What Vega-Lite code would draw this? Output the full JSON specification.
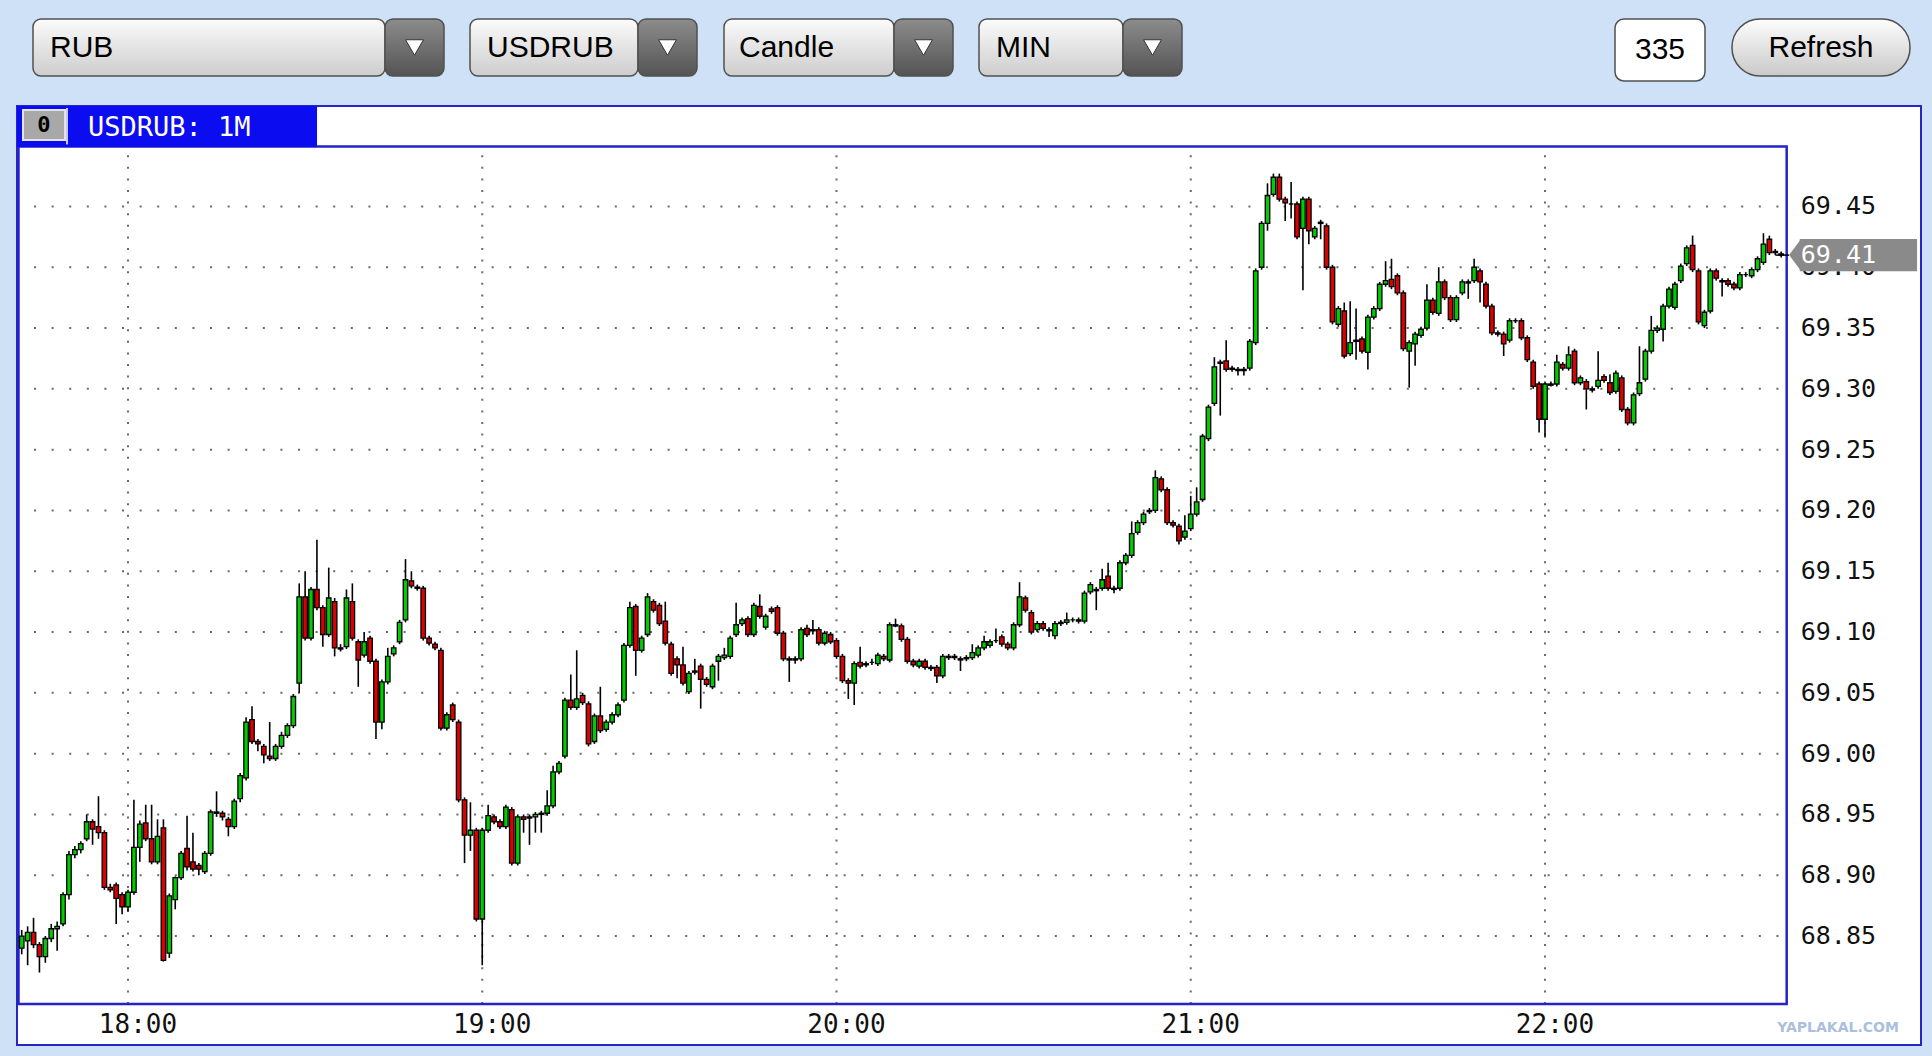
{
"$schema":"https://vega.github.io/schema/vega-lite/v6.json",
"background":"#cfe1f7",
"padding":{"left":16,"top":18,"right":10,"bottom":11},
"spacing":23,
"bounds":"full",
"config":{"view":{"stroke":null},"scale":{"continuousPadding":0}},
"vconcat":[
{"hconcat":[
{"width":16,"height":57,"data":{"values":[{}]},"mark":{"type":"text"},"encoding":{"text":{"value":""}}},
{"width":352,"height":57,"data":{"values":[{}]},"view":{"fill":{"gradient":"linear","x1":0,"y1":0,"x2":0,"y2":1,"stops":[{"offset":0,"color":"#fbfbfb"},{"offset":1,"color":"#cdcdcd"}]},"stroke":"#505050","strokeWidth":1.5,"cornerRadius":8},"mark":{"type":"text","align":"left","dx":-159,"font":"Liberation Sans","fontSize":30,"color":"#000000"},"encoding":{"text":{"value":"RUB"}}},
{"width":59,"height":57,"data":{"values":[{}]},"view":{"fill":{"gradient":"linear","x1":0,"y1":0,"x2":0,"y2":1,"stops":[{"offset":0,"color":"#8c8c8c"},{"offset":1,"color":"#545454"}]},"stroke":"#505050","strokeWidth":1.5,"cornerRadius":8},"mark":{"type":"point","shape":"triangle-down","filled":true,"size":320,"color":"#ffffff","stroke":"#333333","strokeWidth":1,"opacity":1}},
{"width":26,"height":57,"data":{"values":[{}]},"mark":{"type":"text"},"encoding":{"text":{"value":""}}},
{"width":168,"height":57,"data":{"values":[{}]},"view":{"fill":{"gradient":"linear","x1":0,"y1":0,"x2":0,"y2":1,"stops":[{"offset":0,"color":"#fbfbfb"},{"offset":1,"color":"#cdcdcd"}]},"stroke":"#505050","strokeWidth":1.5,"cornerRadius":8},"mark":{"type":"text","align":"left","dx":-67,"font":"Liberation Sans","fontSize":30,"color":"#000000"},"encoding":{"text":{"value":"USDRUB"}}},
{"width":59,"height":57,"data":{"values":[{}]},"view":{"fill":{"gradient":"linear","x1":0,"y1":0,"x2":0,"y2":1,"stops":[{"offset":0,"color":"#8c8c8c"},{"offset":1,"color":"#545454"}]},"stroke":"#505050","strokeWidth":1.5,"cornerRadius":8},"mark":{"type":"point","shape":"triangle-down","filled":true,"size":320,"color":"#ffffff","stroke":"#333333","strokeWidth":1,"opacity":1}},
{"width":27,"height":57,"data":{"values":[{}]},"mark":{"type":"text"},"encoding":{"text":{"value":""}}},
{"width":170,"height":57,"data":{"values":[{}]},"view":{"fill":{"gradient":"linear","x1":0,"y1":0,"x2":0,"y2":1,"stops":[{"offset":0,"color":"#fbfbfb"},{"offset":1,"color":"#cdcdcd"}]},"stroke":"#505050","strokeWidth":1.5,"cornerRadius":8},"mark":{"type":"text","align":"left","dx":-70,"font":"Liberation Sans","fontSize":30,"color":"#000000"},"encoding":{"text":{"value":"Candle"}}},
{"width":59,"height":57,"data":{"values":[{}]},"view":{"fill":{"gradient":"linear","x1":0,"y1":0,"x2":0,"y2":1,"stops":[{"offset":0,"color":"#8c8c8c"},{"offset":1,"color":"#545454"}]},"stroke":"#505050","strokeWidth":1.5,"cornerRadius":8},"mark":{"type":"point","shape":"triangle-down","filled":true,"size":320,"color":"#ffffff","stroke":"#333333","strokeWidth":1,"opacity":1}},
{"width":26,"height":57,"data":{"values":[{}]},"mark":{"type":"text"},"encoding":{"text":{"value":""}}},
{"width":144,"height":57,"data":{"values":[{}]},"view":{"fill":{"gradient":"linear","x1":0,"y1":0,"x2":0,"y2":1,"stops":[{"offset":0,"color":"#fbfbfb"},{"offset":1,"color":"#cdcdcd"}]},"stroke":"#505050","strokeWidth":1.5,"cornerRadius":8},"mark":{"type":"text","align":"left","dx":-55,"font":"Liberation Sans","fontSize":30,"color":"#000000"},"encoding":{"text":{"value":"MIN"}}},
{"width":59,"height":57,"data":{"values":[{}]},"view":{"fill":{"gradient":"linear","x1":0,"y1":0,"x2":0,"y2":1,"stops":[{"offset":0,"color":"#8c8c8c"},{"offset":1,"color":"#545454"}]},"stroke":"#505050","strokeWidth":1.5,"cornerRadius":8},"mark":{"type":"point","shape":"triangle-down","filled":true,"size":320,"color":"#ffffff","stroke":"#333333","strokeWidth":1,"opacity":1}},
{"width":433,"height":57,"data":{"values":[{}]},"mark":{"type":"text"},"encoding":{"text":{"value":""}}},
{"width":90,"height":62,"data":{"values":[{}]},"view":{"fill":"#ffffff","stroke":"#505050","strokeWidth":1.5,"cornerRadius":9},"mark":{"type":"text","font":"Liberation Sans","fontSize":30,"color":"#000000"},"encoding":{"text":{"value":"335"}}},
{"width":27,"height":57,"data":{"values":[{}]},"mark":{"type":"text"},"encoding":{"text":{"value":""}}},
{"width":178,"height":57,"data":{"values":[{}]},"view":{"fill":{"gradient":"linear","x1":0,"y1":0,"x2":0,"y2":1,"stops":[{"offset":0,"color":"#fdfdfd"},{"offset":1,"color":"#c9c9c9"}]},"stroke":"#505050","strokeWidth":1.5,"cornerRadius":28},"mark":{"type":"text","font":"Liberation Sans","fontSize":30,"color":"#000000"},"encoding":{"text":{"value":"Refresh"}}}
],"spacing":0,"bounds":"flush"},
{"width":1904,"height":939,
"view":{"fill":"#ffffff","stroke":"#2626c4","strokeWidth":2},
"layer":[
{"data":{"values":[{"p":68.85},{"p":68.9},{"p":68.95},{"p":69.0},{"p":69.05},{"p":69.1},{"p":69.15},{"p":69.2},{"p":69.25},{"p":69.3},{"p":69.35},{"p":69.4},{"p":69.45}]},
"layer":[
{"mark":{"type":"rule","color":"#6a6a6a","strokeWidth":2,"strokeDash":[2,15.6]},
"encoding":{
"y":{"field":"p","type":"quantitative","scale":{"domain":[68.7604,69.5326],"zero":false,"nice":false,"padding":0},"axis":null},
"x":{"datum":{"year":1900,"month":1,"date":1,"hours":17,"minutes":44,"seconds":5},"type":"temporal",
"scale":{"domain":[{"year":1900,"month":1,"date":1,"hours":17,"minutes":41,"seconds":12},{"year":1900,"month":1,"date":1,"hours":23,"minutes":3,"seconds":41}],"nice":false,"padding":0},"axis":null},
"x2":{"datum":{"year":1900,"month":1,"date":1,"hours":22,"minutes":40,"seconds":9}}}},
{"mark":{"type":"text","align":"left","baseline":"middle","font":"DejaVu Sans Mono","fontSize":25,"color":"#111111"},
"encoding":{"x":{"datum":{"year":1900,"month":1,"date":1,"hours":22,"minutes":43,"seconds":19},"type":"temporal","axis":null},"y":{"field":"p","type":"quantitative","axis":null},"text":{"field":"p","type":"quantitative","format":".2f"}}}
]},
{"data":{"values":[{"t":"18:00"},{"t":"19:00"},{"t":"20:00"},{"t":"21:00"},{"t":"22:00"}],"format":{"parse":{"t":"date:'%H:%M'"}}},
"layer":[
{"mark":{"type":"rule","color":"#6a6a6a","strokeWidth":2,"strokeDash":[2,9.6]},
"encoding":{"x":{"field":"t","type":"temporal","axis":null},"y":{"datum":68.7941,"type":"quantitative","axis":null},"y2":{"datum":69.4993}}},
{"mark":{"type":"text","align":"center","baseline":"middle","dx":10,"font":"DejaVu Sans Mono","fontSize":26,"color":"#111111"},
"encoding":{"x":{"field":"t","type":"temporal","axis":null},"y":{"datum":68.7772,"type":"quantitative","axis":null},"text":{"field":"t","type":"temporal","format":"%H:%M"}}}
]},
{"data":{"values":[{}]},
"mark":{"type":"rect","fillOpacity":0,"stroke":"#2323c8","strokeWidth":2.5},
"encoding":{"x":{"datum":{"year":1900,"month":1,"date":1,"hours":17,"minutes":41,"seconds":27},"type":"temporal","axis":null},"x2":{"datum":{"year":1900,"month":1,"date":1,"hours":22,"minutes":40,"seconds":56}},"y":{"datum":68.7941,"type":"quantitative","axis":null},"y2":{"datum":69.4993}}},
{"data":{"values":[
{"t":"17:42","o":68.840,"h":68.855,"l":68.835,"c":68.850},
{"t":"17:43","o":68.846,"h":68.858,"l":68.826,"c":68.853},
{"t":"17:44","o":68.853,"h":68.865,"l":68.840,"c":68.843},
{"t":"17:45","o":68.843,"h":68.845,"l":68.820,"c":68.833},
{"t":"17:46","o":68.833,"h":68.850,"l":68.828,"c":68.848},
{"t":"17:47","o":68.848,"h":68.860,"l":68.845,"c":68.856},
{"t":"17:48","o":68.856,"h":68.862,"l":68.838,"c":68.858},
{"t":"17:49","o":68.860,"h":68.886,"l":68.858,"c":68.884},
{"t":"17:50","o":68.884,"h":68.920,"l":68.880,"c":68.917},
{"t":"17:51","o":68.917,"h":68.924,"l":68.914,"c":68.921},
{"t":"17:52","o":68.921,"h":68.928,"l":68.918,"c":68.926},
{"t":"17:53","o":68.930,"h":68.950,"l":68.928,"c":68.944},
{"t":"17:54","o":68.944,"h":68.946,"l":68.925,"c":68.938},
{"t":"17:55","o":68.940,"h":68.965,"l":68.930,"c":68.935},
{"t":"17:56","o":68.935,"h":68.937,"l":68.888,"c":68.890},
{"t":"17:57","o":68.890,"h":68.893,"l":68.886,"c":68.888},
{"t":"17:58","o":68.892,"h":68.894,"l":68.860,"c":68.881},
{"t":"17:59","o":68.884,"h":68.886,"l":68.868,"c":68.874},
{"t":"18:00","o":68.874,"h":68.888,"l":68.870,"c":68.886},
{"t":"18:01","o":68.886,"h":68.962,"l":68.884,"c":68.923},
{"t":"18:02","o":68.923,"h":68.945,"l":68.911,"c":68.942},
{"t":"18:03","o":68.943,"h":68.958,"l":68.928,"c":68.930},
{"t":"18:04","o":68.930,"h":68.958,"l":68.909,"c":68.911},
{"t":"18:05","o":68.911,"h":68.946,"l":68.909,"c":68.932},
{"t":"18:06","o":68.939,"h":68.946,"l":68.829,"c":68.830},
{"t":"18:07","o":68.836,"h":68.885,"l":68.832,"c":68.883},
{"t":"18:08","o":68.880,"h":68.899,"l":68.872,"c":68.898},
{"t":"18:09","o":68.898,"h":68.920,"l":68.896,"c":68.918},
{"t":"18:10","o":68.922,"h":68.949,"l":68.904,"c":68.907},
{"t":"18:11","o":68.911,"h":68.935,"l":68.903,"c":68.905},
{"t":"18:12","o":68.908,"h":68.910,"l":68.900,"c":68.905},
{"t":"18:13","o":68.903,"h":68.920,"l":68.901,"c":68.918},
{"t":"18:14","o":68.918,"h":68.954,"l":68.916,"c":68.952},
{"t":"18:15","o":68.951,"h":68.969,"l":68.948,"c":68.952},
{"t":"18:16","o":68.951,"h":68.953,"l":68.945,"c":68.948},
{"t":"18:17","o":68.946,"h":68.948,"l":68.932,"c":68.940},
{"t":"18:18","o":68.940,"h":68.963,"l":68.938,"c":68.961},
{"t":"18:19","o":68.963,"h":68.984,"l":68.960,"c":68.982},
{"t":"18:20","o":68.980,"h":69.030,"l":68.978,"c":69.026},
{"t":"18:21","o":69.028,"h":69.039,"l":69.008,"c":69.010},
{"t":"18:22","o":69.010,"h":69.012,"l":69.002,"c":69.008},
{"t":"18:23","o":69.006,"h":69.008,"l":68.992,"c":68.999},
{"t":"18:24","o":68.998,"h":69.026,"l":68.994,"c":68.996},
{"t":"18:25","o":68.996,"h":69.008,"l":68.994,"c":69.006},
{"t":"18:26","o":69.006,"h":69.018,"l":69.004,"c":69.015},
{"t":"18:27","o":69.015,"h":69.025,"l":69.013,"c":69.023},
{"t":"18:28","o":69.023,"h":69.049,"l":69.021,"c":69.047},
{"t":"18:29","o":69.058,"h":69.140,"l":69.050,"c":69.129},
{"t":"18:30","o":69.129,"h":69.150,"l":69.093,"c":69.095},
{"t":"18:31","o":69.095,"h":69.137,"l":69.093,"c":69.135},
{"t":"18:32","o":69.135,"h":69.176,"l":69.118,"c":69.120},
{"t":"18:33","o":69.120,"h":69.122,"l":69.088,"c":69.098},
{"t":"18:34","o":69.098,"h":69.153,"l":69.096,"c":69.128},
{"t":"18:35","o":69.125,"h":69.128,"l":69.080,"c":69.087},
{"t":"18:36","o":69.087,"h":69.090,"l":69.084,"c":69.086},
{"t":"18:37","o":69.088,"h":69.135,"l":69.086,"c":69.128},
{"t":"18:38","o":69.125,"h":69.140,"l":69.093,"c":69.095},
{"t":"18:39","o":69.092,"h":69.094,"l":69.055,"c":69.077},
{"t":"18:40","o":69.081,"h":69.100,"l":69.079,"c":69.092},
{"t":"18:41","o":69.095,"h":69.097,"l":69.074,"c":69.076},
{"t":"18:42","o":69.076,"h":69.078,"l":69.012,"c":69.026},
{"t":"18:43","o":69.026,"h":69.061,"l":69.020,"c":69.059},
{"t":"18:44","o":69.059,"h":69.087,"l":69.057,"c":69.080},
{"t":"18:45","o":69.082,"h":69.089,"l":69.080,"c":69.087},
{"t":"18:46","o":69.092,"h":69.110,"l":69.090,"c":69.108},
{"t":"18:47","o":69.110,"h":69.160,"l":69.108,"c":69.143},
{"t":"18:48","o":69.142,"h":69.150,"l":69.136,"c":69.138},
{"t":"18:49","o":69.137,"h":69.139,"l":69.134,"c":69.136},
{"t":"18:50","o":69.136,"h":69.138,"l":69.093,"c":69.095},
{"t":"18:51","o":69.095,"h":69.097,"l":69.089,"c":69.091},
{"t":"18:52","o":69.090,"h":69.092,"l":69.085,"c":69.087},
{"t":"18:53","o":69.085,"h":69.087,"l":69.019,"c":69.021},
{"t":"18:54","o":69.021,"h":69.034,"l":69.019,"c":69.032},
{"t":"18:55","o":69.040,"h":69.042,"l":69.026,"c":69.028},
{"t":"18:56","o":69.026,"h":69.028,"l":68.960,"c":68.962},
{"t":"18:57","o":68.962,"h":68.964,"l":68.910,"c":68.933},
{"t":"18:58","o":68.933,"h":68.960,"l":68.920,"c":68.937},
{"t":"18:59","o":68.937,"h":68.939,"l":68.862,"c":68.864},
{"t":"19:00","o":68.864,"h":68.939,"l":68.826,"c":68.937},
{"t":"19:01","o":68.937,"h":68.958,"l":68.935,"c":68.949},
{"t":"19:02","o":68.948,"h":68.950,"l":68.942,"c":68.944},
{"t":"19:03","o":68.944,"h":68.946,"l":68.938,"c":68.940},
{"t":"19:04","o":68.940,"h":68.958,"l":68.938,"c":68.956},
{"t":"19:05","o":68.954,"h":68.956,"l":68.908,"c":68.910},
{"t":"19:06","o":68.910,"h":68.950,"l":68.908,"c":68.948},
{"t":"19:07","o":68.948,"h":68.950,"l":68.935,"c":68.946},
{"t":"19:08","o":68.947,"h":68.950,"l":68.925,"c":68.948},
{"t":"19:09","o":68.948,"h":68.952,"l":68.935,"c":68.950},
{"t":"19:10","o":68.950,"h":68.953,"l":68.935,"c":68.951},
{"t":"19:11","o":68.951,"h":68.970,"l":68.949,"c":68.957},
{"t":"19:12","o":68.957,"h":68.990,"l":68.955,"c":68.985},
{"t":"19:13","o":68.985,"h":68.994,"l":68.983,"c":68.992},
{"t":"19:14","o":68.998,"h":69.046,"l":68.996,"c":69.044},
{"t":"19:15","o":69.044,"h":69.065,"l":69.036,"c":69.038},
{"t":"19:16","o":69.038,"h":69.085,"l":69.036,"c":69.045},
{"t":"19:17","o":69.048,"h":69.050,"l":69.040,"c":69.042},
{"t":"19:18","o":69.041,"h":69.043,"l":69.006,"c":69.008},
{"t":"19:19","o":69.010,"h":69.033,"l":69.008,"c":69.031},
{"t":"19:20","o":69.031,"h":69.055,"l":69.017,"c":69.019},
{"t":"19:21","o":69.020,"h":69.028,"l":69.018,"c":69.026},
{"t":"19:22","o":69.026,"h":69.034,"l":69.024,"c":69.032},
{"t":"19:23","o":69.032,"h":69.042,"l":69.030,"c":69.040},
{"t":"19:24","o":69.044,"h":69.091,"l":69.042,"c":69.089},
{"t":"19:25","o":69.089,"h":69.125,"l":69.087,"c":69.120},
{"t":"19:26","o":69.121,"h":69.123,"l":69.064,"c":69.085},
{"t":"19:27","o":69.085,"h":69.097,"l":69.083,"c":69.095},
{"t":"19:28","o":69.098,"h":69.132,"l":69.096,"c":69.129},
{"t":"19:29","o":69.125,"h":69.127,"l":69.116,"c":69.118},
{"t":"19:30","o":69.122,"h":69.124,"l":69.105,"c":69.107},
{"t":"19:31","o":69.109,"h":69.125,"l":69.089,"c":69.091},
{"t":"19:32","o":69.090,"h":69.092,"l":69.064,"c":69.066},
{"t":"19:33","o":69.078,"h":69.080,"l":69.062,"c":69.073},
{"t":"19:34","o":69.073,"h":69.088,"l":69.056,"c":69.058},
{"t":"19:35","o":69.051,"h":69.068,"l":69.049,"c":69.066},
{"t":"19:36","o":69.068,"h":69.078,"l":69.065,"c":69.067},
{"t":"19:37","o":69.072,"h":69.074,"l":69.037,"c":69.061},
{"t":"19:38","o":69.061,"h":69.063,"l":69.055,"c":69.057},
{"t":"19:39","o":69.055,"h":69.074,"l":69.053,"c":69.072},
{"t":"19:40","o":69.076,"h":69.082,"l":69.060,"c":69.080},
{"t":"19:41","o":69.079,"h":69.087,"l":69.077,"c":69.081},
{"t":"19:42","o":69.080,"h":69.097,"l":69.078,"c":69.095},
{"t":"19:43","o":69.098,"h":69.124,"l":69.096,"c":69.106},
{"t":"19:44","o":69.107,"h":69.112,"l":69.105,"c":69.110},
{"t":"19:45","o":69.111,"h":69.113,"l":69.096,"c":69.098},
{"t":"19:46","o":69.098,"h":69.124,"l":69.096,"c":69.122},
{"t":"19:47","o":69.121,"h":69.131,"l":69.111,"c":69.113},
{"t":"19:48","o":69.104,"h":69.115,"l":69.102,"c":69.113},
{"t":"19:49","o":69.119,"h":69.121,"l":69.115,"c":69.117},
{"t":"19:50","o":69.120,"h":69.122,"l":69.097,"c":69.099},
{"t":"19:51","o":69.099,"h":69.101,"l":69.076,"c":69.078},
{"t":"19:52","o":69.078,"h":69.080,"l":69.059,"c":69.077},
{"t":"19:53","o":69.077,"h":69.080,"l":69.074,"c":69.078},
{"t":"19:54","o":69.078,"h":69.104,"l":69.076,"c":69.102},
{"t":"19:55","o":69.103,"h":69.106,"l":69.096,"c":69.098},
{"t":"19:56","o":69.101,"h":69.110,"l":69.098,"c":69.102},
{"t":"19:57","o":69.102,"h":69.104,"l":69.089,"c":69.091},
{"t":"19:58","o":69.091,"h":69.101,"l":69.089,"c":69.099},
{"t":"19:59","o":69.098,"h":69.100,"l":69.090,"c":69.092},
{"t":"20:00","o":69.093,"h":69.095,"l":69.078,"c":69.080},
{"t":"20:01","o":69.080,"h":69.082,"l":69.058,"c":69.060},
{"t":"20:02","o":69.060,"h":69.062,"l":69.045,"c":69.058},
{"t":"20:03","o":69.058,"h":69.076,"l":69.040,"c":69.074},
{"t":"20:04","o":69.075,"h":69.088,"l":69.070,"c":69.072},
{"t":"20:05","o":69.073,"h":69.076,"l":69.071,"c":69.074},
{"t":"20:06","o":69.075,"h":69.078,"l":69.073,"c":69.075},
{"t":"20:07","o":69.074,"h":69.083,"l":69.072,"c":69.081},
{"t":"20:08","o":69.080,"h":69.082,"l":69.076,"c":69.078},
{"t":"20:09","o":69.077,"h":69.108,"l":69.075,"c":69.106},
{"t":"20:10","o":69.106,"h":69.111,"l":69.104,"c":69.105},
{"t":"20:11","o":69.105,"h":69.107,"l":69.092,"c":69.094},
{"t":"20:12","o":69.094,"h":69.096,"l":69.074,"c":69.076},
{"t":"20:13","o":69.076,"h":69.078,"l":69.071,"c":69.073},
{"t":"20:14","o":69.072,"h":69.078,"l":69.070,"c":69.076},
{"t":"20:15","o":69.076,"h":69.078,"l":69.069,"c":69.071},
{"t":"20:16","o":69.071,"h":69.073,"l":69.068,"c":69.070},
{"t":"20:17","o":69.071,"h":69.073,"l":69.058,"c":69.064},
{"t":"20:18","o":69.064,"h":69.082,"l":69.062,"c":69.080},
{"t":"20:19","o":69.080,"h":69.082,"l":69.077,"c":69.079},
{"t":"20:20","o":69.080,"h":69.082,"l":69.077,"c":69.079},
{"t":"20:21","o":69.078,"h":69.080,"l":69.068,"c":69.077},
{"t":"20:22","o":69.079,"h":69.081,"l":69.076,"c":69.078},
{"t":"20:23","o":69.079,"h":69.090,"l":69.077,"c":69.083},
{"t":"20:24","o":69.081,"h":69.089,"l":69.079,"c":69.087},
{"t":"20:25","o":69.087,"h":69.097,"l":69.085,"c":69.092},
{"t":"20:26","o":69.089,"h":69.094,"l":69.087,"c":69.092},
{"t":"20:27","o":69.093,"h":69.103,"l":69.091,"c":69.093},
{"t":"20:28","o":69.096,"h":69.098,"l":69.088,"c":69.090},
{"t":"20:29","o":69.090,"h":69.092,"l":69.085,"c":69.087},
{"t":"20:30","o":69.087,"h":69.108,"l":69.085,"c":69.106},
{"t":"20:31","o":69.106,"h":69.141,"l":69.104,"c":69.129},
{"t":"20:32","o":69.128,"h":69.130,"l":69.116,"c":69.118},
{"t":"20:33","o":69.116,"h":69.118,"l":69.098,"c":69.100},
{"t":"20:34","o":69.102,"h":69.109,"l":69.100,"c":69.107},
{"t":"20:35","o":69.107,"h":69.109,"l":69.101,"c":69.103},
{"t":"20:36","o":69.102,"h":69.104,"l":69.096,"c":69.101},
{"t":"20:37","o":69.097,"h":69.109,"l":69.094,"c":69.107},
{"t":"20:38","o":69.107,"h":69.110,"l":69.105,"c":69.108},
{"t":"20:39","o":69.108,"h":69.116,"l":69.106,"c":69.110},
{"t":"20:40","o":69.110,"h":69.112,"l":69.108,"c":69.110},
{"t":"20:41","o":69.110,"h":69.112,"l":69.107,"c":69.109},
{"t":"20:42","o":69.109,"h":69.134,"l":69.107,"c":69.132},
{"t":"20:43","o":69.133,"h":69.141,"l":69.131,"c":69.139},
{"t":"20:44","o":69.135,"h":69.137,"l":69.118,"c":69.134},
{"t":"20:45","o":69.136,"h":69.152,"l":69.134,"c":69.143},
{"t":"20:46","o":69.146,"h":69.157,"l":69.134,"c":69.136},
{"t":"20:47","o":69.136,"h":69.138,"l":69.132,"c":69.135},
{"t":"20:48","o":69.136,"h":69.159,"l":69.134,"c":69.157},
{"t":"20:49","o":69.157,"h":69.165,"l":69.155,"c":69.163},
{"t":"20:50","o":69.163,"h":69.191,"l":69.161,"c":69.181},
{"t":"20:51","o":69.182,"h":69.192,"l":69.180,"c":69.190},
{"t":"20:52","o":69.190,"h":69.199,"l":69.188,"c":69.197},
{"t":"20:53","o":69.199,"h":69.202,"l":69.197,"c":69.200},
{"t":"20:54","o":69.200,"h":69.233,"l":69.198,"c":69.227},
{"t":"20:55","o":69.226,"h":69.228,"l":69.215,"c":69.217},
{"t":"20:56","o":69.217,"h":69.219,"l":69.188,"c":69.190},
{"t":"20:57","o":69.190,"h":69.192,"l":69.186,"c":69.188},
{"t":"20:58","o":69.187,"h":69.189,"l":69.172,"c":69.175},
{"t":"20:59","o":69.178,"h":69.196,"l":69.176,"c":69.183},
{"t":"21:00","o":69.185,"h":69.212,"l":69.183,"c":69.197},
{"t":"21:01","o":69.197,"h":69.219,"l":69.195,"c":69.207},
{"t":"21:02","o":69.209,"h":69.263,"l":69.207,"c":69.261},
{"t":"21:03","o":69.259,"h":69.287,"l":69.257,"c":69.285},
{"t":"21:04","o":69.288,"h":69.326,"l":69.286,"c":69.318},
{"t":"21:05","o":69.322,"h":69.324,"l":69.278,"c":69.321},
{"t":"21:06","o":69.323,"h":69.340,"l":69.314,"c":69.316},
{"t":"21:07","o":69.317,"h":69.319,"l":69.314,"c":69.316},
{"t":"21:08","o":69.316,"h":69.318,"l":69.311,"c":69.315},
{"t":"21:09","o":69.315,"h":69.318,"l":69.311,"c":69.316},
{"t":"21:10","o":69.317,"h":69.341,"l":69.315,"c":69.339},
{"t":"21:11","o":69.338,"h":69.399,"l":69.336,"c":69.397},
{"t":"21:12","o":69.400,"h":69.438,"l":69.398,"c":69.436},
{"t":"21:13","o":69.436,"h":69.469,"l":69.430,"c":69.459},
{"t":"21:14","o":69.460,"h":69.477,"l":69.458,"c":69.474},
{"t":"21:15","o":69.474,"h":69.477,"l":69.454,"c":69.456},
{"t":"21:16","o":69.456,"h":69.458,"l":69.438,"c":69.453},
{"t":"21:17","o":69.452,"h":69.470,"l":69.440,"c":69.452},
{"t":"21:18","o":69.452,"h":69.454,"l":69.423,"c":69.425},
{"t":"21:19","o":69.432,"h":69.458,"l":69.381,"c":69.456},
{"t":"21:20","o":69.456,"h":69.458,"l":69.419,"c":69.430},
{"t":"21:21","o":69.425,"h":69.434,"l":69.423,"c":69.432},
{"t":"21:22","o":69.437,"h":69.439,"l":69.423,"c":69.436},
{"t":"21:23","o":69.434,"h":69.436,"l":69.398,"c":69.400},
{"t":"21:24","o":69.400,"h":69.402,"l":69.353,"c":69.355},
{"t":"21:25","o":69.353,"h":69.368,"l":69.351,"c":69.366},
{"t":"21:26","o":69.364,"h":69.371,"l":69.325,"c":69.327},
{"t":"21:27","o":69.329,"h":69.372,"l":69.327,"c":69.338},
{"t":"21:28","o":69.340,"h":69.366,"l":69.324,"c":69.339},
{"t":"21:29","o":69.341,"h":69.343,"l":69.329,"c":69.331},
{"t":"21:30","o":69.330,"h":69.361,"l":69.316,"c":69.359},
{"t":"21:31","o":69.359,"h":69.368,"l":69.357,"c":69.366},
{"t":"21:32","o":69.366,"h":69.388,"l":69.364,"c":69.386},
{"t":"21:33","o":69.386,"h":69.405,"l":69.384,"c":69.389},
{"t":"21:34","o":69.390,"h":69.407,"l":69.382,"c":69.384},
{"t":"21:35","o":69.393,"h":69.395,"l":69.377,"c":69.379},
{"t":"21:36","o":69.379,"h":69.381,"l":69.331,"c":69.333},
{"t":"21:37","o":69.331,"h":69.340,"l":69.301,"c":69.338},
{"t":"21:38","o":69.337,"h":69.347,"l":69.319,"c":69.345},
{"t":"21:39","o":69.344,"h":69.351,"l":69.342,"c":69.349},
{"t":"21:40","o":69.350,"h":69.386,"l":69.348,"c":69.373},
{"t":"21:41","o":69.373,"h":69.375,"l":69.361,"c":69.363},
{"t":"21:42","o":69.362,"h":69.400,"l":69.360,"c":69.388},
{"t":"21:43","o":69.388,"h":69.390,"l":69.373,"c":69.375},
{"t":"21:44","o":69.375,"h":69.377,"l":69.355,"c":69.357},
{"t":"21:45","o":69.357,"h":69.377,"l":69.355,"c":69.375},
{"t":"21:46","o":69.379,"h":69.390,"l":69.377,"c":69.388},
{"t":"21:47","o":69.388,"h":69.390,"l":69.374,"c":69.387},
{"t":"21:48","o":69.389,"h":69.407,"l":69.387,"c":69.400},
{"t":"21:49","o":69.397,"h":69.399,"l":69.371,"c":69.388},
{"t":"21:50","o":69.386,"h":69.388,"l":69.366,"c":69.368},
{"t":"21:51","o":69.368,"h":69.370,"l":69.344,"c":69.346},
{"t":"21:52","o":69.346,"h":69.348,"l":69.343,"c":69.345},
{"t":"21:53","o":69.345,"h":69.347,"l":69.327,"c":69.337},
{"t":"21:54","o":69.340,"h":69.358,"l":69.338,"c":69.356},
{"t":"21:55","o":69.356,"h":69.358,"l":69.354,"c":69.356},
{"t":"21:56","o":69.356,"h":69.358,"l":69.340,"c":69.342},
{"t":"21:57","o":69.342,"h":69.344,"l":69.322,"c":69.324},
{"t":"21:58","o":69.322,"h":69.324,"l":69.300,"c":69.302},
{"t":"21:59","o":69.304,"h":69.306,"l":69.264,"c":69.275},
{"t":"22:00","o":69.275,"h":69.306,"l":69.260,"c":69.304},
{"t":"22:01","o":69.304,"h":69.306,"l":69.302,"c":69.303},
{"t":"22:02","o":69.304,"h":69.328,"l":69.302,"c":69.322},
{"t":"22:03","o":69.320,"h":69.322,"l":69.315,"c":69.317},
{"t":"22:04","o":69.317,"h":69.335,"l":69.315,"c":69.328},
{"t":"22:05","o":69.331,"h":69.333,"l":69.303,"c":69.305},
{"t":"22:06","o":69.305,"h":69.311,"l":69.303,"c":69.309},
{"t":"22:07","o":69.306,"h":69.308,"l":69.283,"c":69.300},
{"t":"22:08","o":69.300,"h":69.302,"l":69.297,"c":69.299},
{"t":"22:09","o":69.302,"h":69.331,"l":69.300,"c":69.307},
{"t":"22:10","o":69.310,"h":69.312,"l":69.305,"c":69.307},
{"t":"22:11","o":69.305,"h":69.312,"l":69.295,"c":69.297},
{"t":"22:12","o":69.298,"h":69.315,"l":69.296,"c":69.313},
{"t":"22:13","o":69.309,"h":69.311,"l":69.281,"c":69.283},
{"t":"22:14","o":69.283,"h":69.285,"l":69.270,"c":69.272},
{"t":"22:15","o":69.272,"h":69.297,"l":69.270,"c":69.295},
{"t":"22:16","o":69.296,"h":69.335,"l":69.294,"c":69.305},
{"t":"22:17","o":69.308,"h":69.333,"l":69.306,"c":69.331},
{"t":"22:18","o":69.331,"h":69.360,"l":69.329,"c":69.348},
{"t":"22:19","o":69.348,"h":69.352,"l":69.346,"c":69.350},
{"t":"22:20","o":69.349,"h":69.370,"l":69.339,"c":69.368},
{"t":"22:21","o":69.368,"h":69.384,"l":69.366,"c":69.382},
{"t":"22:22","o":69.367,"h":69.388,"l":69.365,"c":69.386},
{"t":"22:23","o":69.389,"h":69.403,"l":69.387,"c":69.401},
{"t":"22:24","o":69.403,"h":69.418,"l":69.401,"c":69.416},
{"t":"22:25","o":69.418,"h":69.426,"l":69.396,"c":69.398},
{"t":"22:26","o":69.397,"h":69.399,"l":69.353,"c":69.355},
{"t":"22:27","o":69.352,"h":69.365,"l":69.350,"c":69.363},
{"t":"22:28","o":69.364,"h":69.399,"l":69.362,"c":69.397},
{"t":"22:29","o":69.397,"h":69.399,"l":69.389,"c":69.391},
{"t":"22:30","o":69.389,"h":69.391,"l":69.376,"c":69.388},
{"t":"22:31","o":69.389,"h":69.391,"l":69.384,"c":69.386},
{"t":"22:32","o":69.386,"h":69.388,"l":69.381,"c":69.383},
{"t":"22:33","o":69.383,"h":69.396,"l":69.381,"c":69.394},
{"t":"22:34","o":69.394,"h":69.396,"l":69.392,"c":69.394},
{"t":"22:35","o":69.393,"h":69.400,"l":69.391,"c":69.398},
{"t":"22:36","o":69.398,"h":69.409,"l":69.396,"c":69.407},
{"t":"22:37","o":69.404,"h":69.428,"l":69.402,"c":69.419},
{"t":"22:38","o":69.423,"h":69.426,"l":69.410,"c":69.412},
{"t":"22:39","o":69.413,"h":69.415,"l":69.410,"c":69.412},
{"t":"22:40","o":69.411,"h":69.413,"l":69.408,"c":69.410}
],"format":{"parse":{"t":"date:'%H:%M'"}}},
"layer":[
{"mark":{"type":"rule","color":"#000000","strokeWidth":1.6},
"encoding":{"x":{"field":"t","type":"temporal","axis":null},"y":{"field":"l","type":"quantitative","axis":null},"y2":{"field":"h"}}},
{"mark":{"type":"bar","size":4.5,"stroke":"#000000","strokeWidth":1.3},
"encoding":{"x":{"field":"t","type":"temporal","axis":null},"y":{"field":"o","type":"quantitative","axis":null},"y2":{"field":"c"},
"color":{"condition":{"test":"datum.c >= datum.o","value":"#00cc00"},"value":"#dd0000"}}}
]},
{"data":{"values":[{}]},
"mark":{"type":"rule","color":"#000000","strokeWidth":1.5},
"encoding":{"x":{"datum":{"year":1900,"month":1,"date":1,"hours":22,"minutes":39,"seconds":0},"type":"temporal","axis":null},"x2":{"datum":{"year":1900,"month":1,"date":1,"hours":22,"minutes":41,"seconds":20}},"y":{"datum":69.41,"type":"quantitative","axis":null}}},
{"data":{"values":[{}]},
"mark":{"type":"point","shape":"M 0 0 L 0.75 -1 L 0.75 1 Z","filled":true,"size":1024,"color":"#8a8a8a","opacity":1},
"encoding":{"x":{"datum":{"year":1900,"month":1,"date":1,"hours":22,"minutes":41,"seconds":20},"type":"temporal","axis":null},"y":{"datum":69.41,"type":"quantitative","axis":null}}},
{"data":{"values":[{}]},
"mark":{"type":"rect","color":"#8a8a8a"},
"encoding":{"x":{"datum":{"year":1900,"month":1,"date":1,"hours":22,"minutes":43,"seconds":9},"type":"temporal","axis":null},"x2":{"datum":{"year":1900,"month":1,"date":1,"hours":23,"minutes":3,"seconds":1}},"y":{"datum":69.3968,"type":"quantitative","axis":null},"y2":{"datum":69.4232}}},
{"data":{"values":[{}]},
"mark":{"type":"text","align":"left","baseline":"middle","font":"DejaVu Sans Mono","fontSize":25,"color":"#ffffff"},
"encoding":{"x":{"datum":{"year":1900,"month":1,"date":1,"hours":22,"minutes":43,"seconds":19},"type":"temporal","axis":null},"y":{"datum":69.41,"type":"quantitative","axis":null},"text":{"value":"69.41"}}},
{"data":{"values":[{}]},
"mark":{"type":"rect","color":"#0c0cf0"},
"encoding":{"x":{"datum":{"year":1900,"month":1,"date":1,"hours":17,"minutes":41,"seconds":12},"type":"temporal","axis":null},"x2":{"datum":{"year":1900,"month":1,"date":1,"hours":18,"minutes":32,"seconds":1}},"y":{"datum":69.4988,"type":"quantitative","axis":null},"y2":{"datum":69.5326}}},
{"data":{"values":[{}]},
"mark":{"type":"rect","fill":"#a8a8a8","stroke":"#e4e4e4","strokeWidth":2},
"encoding":{"x":{"datum":{"year":1900,"month":1,"date":1,"hours":17,"minutes":42,"seconds":13},"type":"temporal","axis":null},"x2":{"datum":{"year":1900,"month":1,"date":1,"hours":17,"minutes":49,"seconds":20}},"y":{"datum":69.5046,"type":"quantitative","axis":null},"y2":{"datum":69.5293}}},
{"data":{"values":[{}]},
"mark":{"type":"text","align":"center","baseline":"middle","font":"DejaVu Sans Mono","fontWeight":"bold","fontSize":22,"color":"#000000"},
"encoding":{"x":{"datum":{"year":1900,"month":1,"date":1,"hours":17,"minutes":45,"seconds":46},"type":"temporal","axis":null},"y":{"datum":69.517,"type":"quantitative","axis":null},"text":{"value":"0"}}},
{"data":{"values":[{}]},
"mark":{"type":"rule","color":"#c8c8ff","strokeWidth":2},
"encoding":{"x":{"datum":{"year":1900,"month":1,"date":1,"hours":17,"minutes":49,"seconds":40},"type":"temporal","axis":null},"y":{"datum":69.501,"type":"quantitative","axis":null},"y2":{"datum":69.531}}},
{"data":{"values":[{}]},
"mark":{"type":"text","align":"left","baseline":"middle","font":"DejaVu Sans Mono","fontSize":27,"color":"#ffffff"},
"encoding":{"x":{"datum":{"year":1900,"month":1,"date":1,"hours":17,"minutes":53,"seconds":13},"type":"temporal","axis":null},"y":{"datum":69.5149,"type":"quantitative","axis":null},"text":{"value":"USDRUB: 1M"}}},
{"data":{"values":[{}]},
"mark":{"type":"text","align":"center","baseline":"middle","font":"DejaVu Sans","fontWeight":"bold","fontSize":14,"color":"#a9bfdc"},
"encoding":{"x":{"datum":{"year":1900,"month":1,"date":1,"hours":22,"minutes":49,"seconds":38},"type":"temporal","axis":null},"y":{"datum":68.7743,"type":"quantitative","axis":null},"text":{"value":"YAPLAKAL.COM"}}}
]}
]
}
